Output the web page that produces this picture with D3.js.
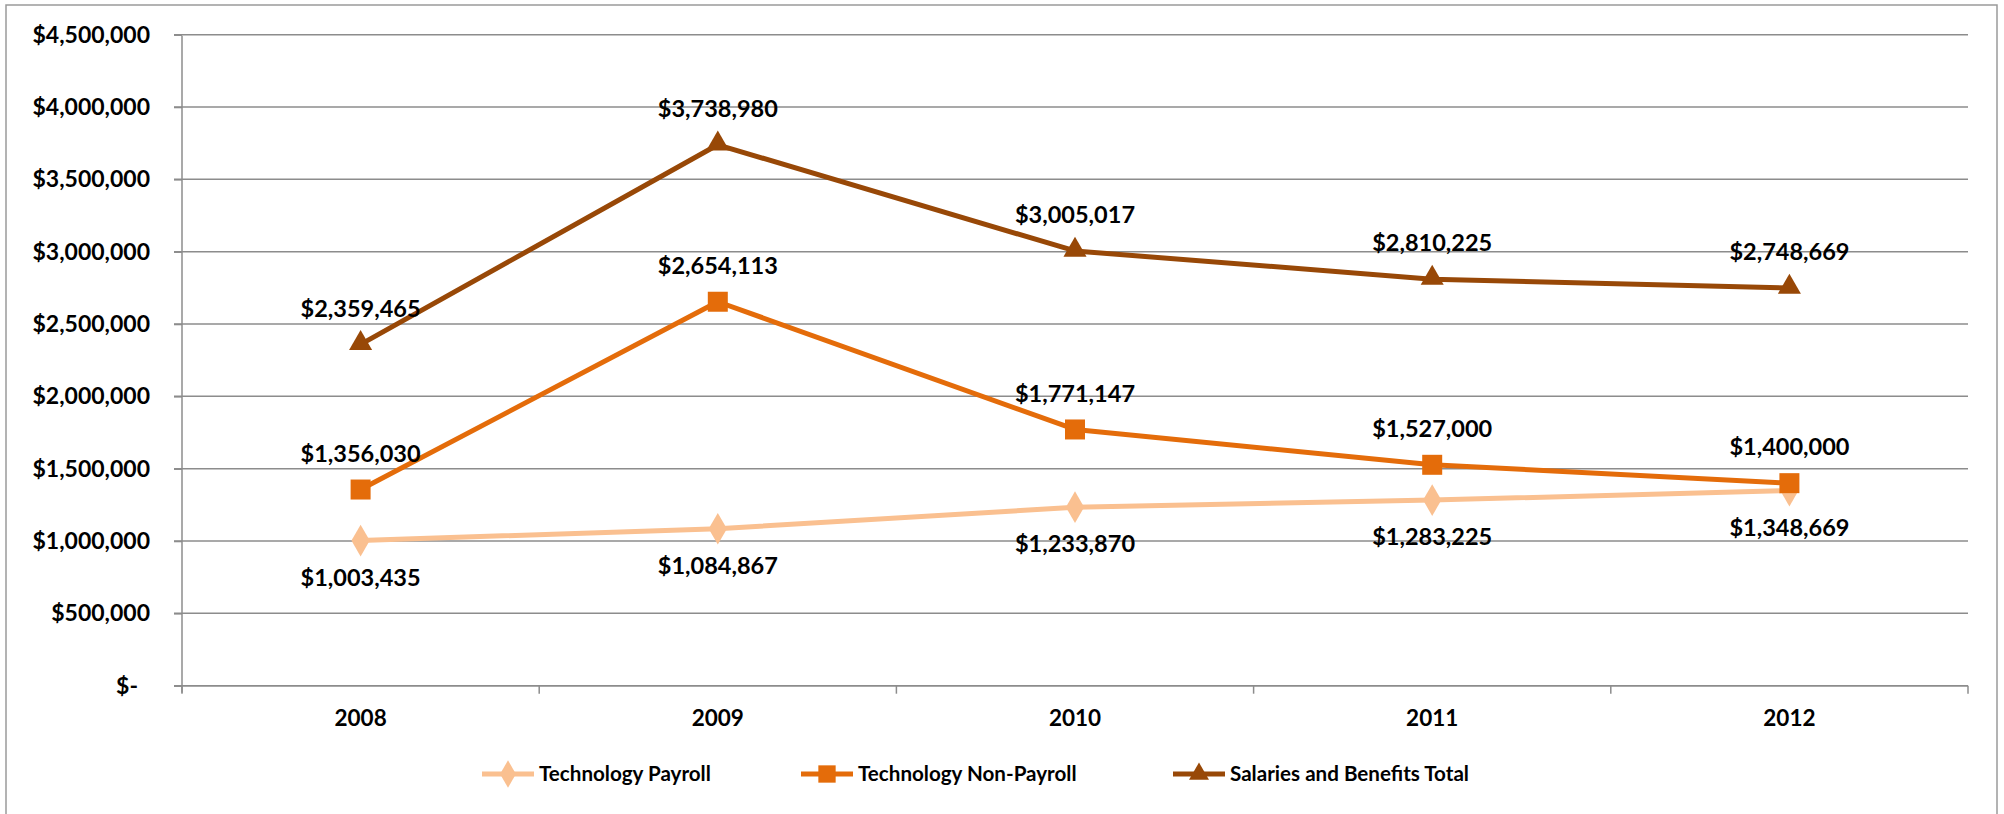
<!DOCTYPE html>
<html>
<head>
<meta charset="utf-8">
<script src="https://cdn.jsdelivr.net/npm/d3@7"></script>
<style>
  body { margin: 0; background: #fff; }
  svg text { font-family: Lato, "Open Sans", "Liberation Sans", sans-serif; font-weight: bold; fill: #000; }
</style>
</head>
<body>
<svg id="chart"></svg>
<script>
// chart values
const years = ["2008", "2009", "2010", "2011", "2012"];
const seriesNames = ["Technology Payroll", "Technology Non-Payroll", "Salaries and Benefits Total"];
const payroll = [1003435, 1084867, 1233870, 1283225, 1348669];
const nonPayroll = [1356030, 2654113, 1771147, 1527000, 1400000];
const salaries = [2359465, 3738980, 3005017, 2810225, 2748669];
const yTicks = [0, 500000, 1000000, 1500000, 2000000, 2500000, 3000000, 3500000, 4000000, 4500000];

const W = 2004, H = 814;
const plotLeft = 182, plotRight = 1968, plotTop = 34.7, plotBottom = 685.7;
const gridColor = "#8c8c8c";

const svg = d3.select("#chart").attr("width", W).attr("height", H);

// outer border (bottom edge runs off the picture)
svg.append("path")
    .attr("d", `M6,${H + 2} L6,5 L1997,5 L1997,${H + 2}`)
    .attr("fill", "none")
    .attr("stroke", "#9a9a9a")
    .attr("stroke-width", 1.5);

const x = d3.scaleBand().domain(years).range([plotLeft, plotRight]).padding(0);
const y = d3.scaleLinear().domain([0, 4500000]).range([plotBottom, plotTop]);

const money = v => v === 0 ? "$-" : "$" + d3.format(",")(v);

// gridlines
svg.append("g").selectAll("line")
    .data(yTicks)
    .enter()
    .append("line")
    .attr("x1", plotLeft - 8)
    .attr("x2", plotRight)
    .attr("y1", d => y(d))
    .attr("y2", d => y(d))
    .attr("stroke", gridColor)
    .attr("stroke-width", 1.5);

// y axis
const yAxis = svg.append("g")
    .attr("transform", `translate(${plotLeft},0)`)
    .call(d3.axisLeft(y).tickValues(yTicks).tickFormat(money).tickSize(8).tickPadding(24));
yAxis.select(".domain").attr("stroke", gridColor).attr("stroke-width", 1.5)
    .attr("d", `M0,${plotTop + 1}V${plotBottom + 7}`);
yAxis.selectAll(".tick line").attr("stroke", gridColor).attr("stroke-width", 1.5);
yAxis.selectAll(".tick text")
    .attr("font-size", 23)
    .attr("dx", d => d === 0 ? -12 : 0);

// x axis
const xAxis = svg.append("g")
    .attr("transform", `translate(0,${plotBottom})`)
    .call(d3.axisBottom(x).tickSize(0).tickPadding(24));
xAxis.select(".domain").attr("stroke", gridColor).attr("stroke-width", 1.5)
    .attr("d", `M${plotLeft},0H${plotRight}`);
xAxis.selectAll(".tick text").attr("font-size", 22.5);
// boundary ticks between categories
xAxis.append("g").selectAll("line")
    .data(years.concat(["end"]))
    .enter()
    .append("line")
    .attr("x1", (d, i) => plotLeft + i * x.bandwidth())
    .attr("x2", (d, i) => plotLeft + i * x.bandwidth())
    .attr("y1", 0)
    .attr("y2", 8)
    .attr("stroke", gridColor)
    .attr("stroke-width", 1.5);

const series = [
    { name: seriesNames[0], values: payroll, color: "#FAC090", shape: d3.symbolDiamond, size: 290, labelDy: 37 },
    { name: seriesNames[1], values: nonPayroll, color: "#E46C0A", shape: d3.symbolSquare, size: 400, labelDy: -36 },
    { name: seriesNames[2], values: salaries, color: "#984807", shape: d3.symbolTriangle, size: 230, labelDy: -36 }
];

const cx = yr => x(yr) + x.bandwidth() / 2;
const line = d3.line().x((d, i) => cx(years[i])).y(d => y(d));

series.forEach(s => {
    const g = svg.append("g");
    g.append("path")
        .datum(s.values)
        .attr("d", line)
        .attr("fill", "none")
        .attr("stroke", s.color)
        .attr("stroke-width", 5)
        .attr("stroke-linejoin", "round");
    g.selectAll("path.m")
        .data(s.values)
        .enter()
        .append("path")
        .attr("class", "m")
        .attr("d", d3.symbol().type(s.shape).size(s.size))
        .attr("transform", (d, i) => `translate(${cx(years[i])},${y(d) - (s.shape === d3.symbolTriangle ? 1 : 0)})`)
        .attr("fill", s.color);
    g.selectAll("text")
        .data(s.values)
        .enter()
        .append("text")
        .text(d => money(d))
        .attr("x", (d, i) => cx(years[i]))
        .attr("y", d => y(d) + s.labelDy)
        .attr("dy", "0.35em")
        .attr("text-anchor", "middle")
        .attr("font-size", 23.5);
});

// legend
const legendX = [482, 801, 1173];
const legendY = 774;
const legend = svg.append("g");
series.forEach((s, i) => {
    const lg = legend.append("g").attr("transform", `translate(${legendX[i]},${legendY})`);
    lg.append("line")
        .attr("x1", 0).attr("x2", 52)
        .attr("y1", 0).attr("y2", 0)
        .attr("stroke", s.color)
        .attr("stroke-width", 5);
    lg.append("path")
        .attr("d", d3.symbol().type(s.shape).size(s.size * 0.75))
        .attr("transform", "translate(26,0)")
        .attr("fill", s.color);
    lg.append("text")
        .text(s.name)
        .attr("x", 57)
        .attr("y", 0)
        .attr("dy", "0.35em")
        .attr("font-size", 20.6);
});
</script>
</body>
</html>
